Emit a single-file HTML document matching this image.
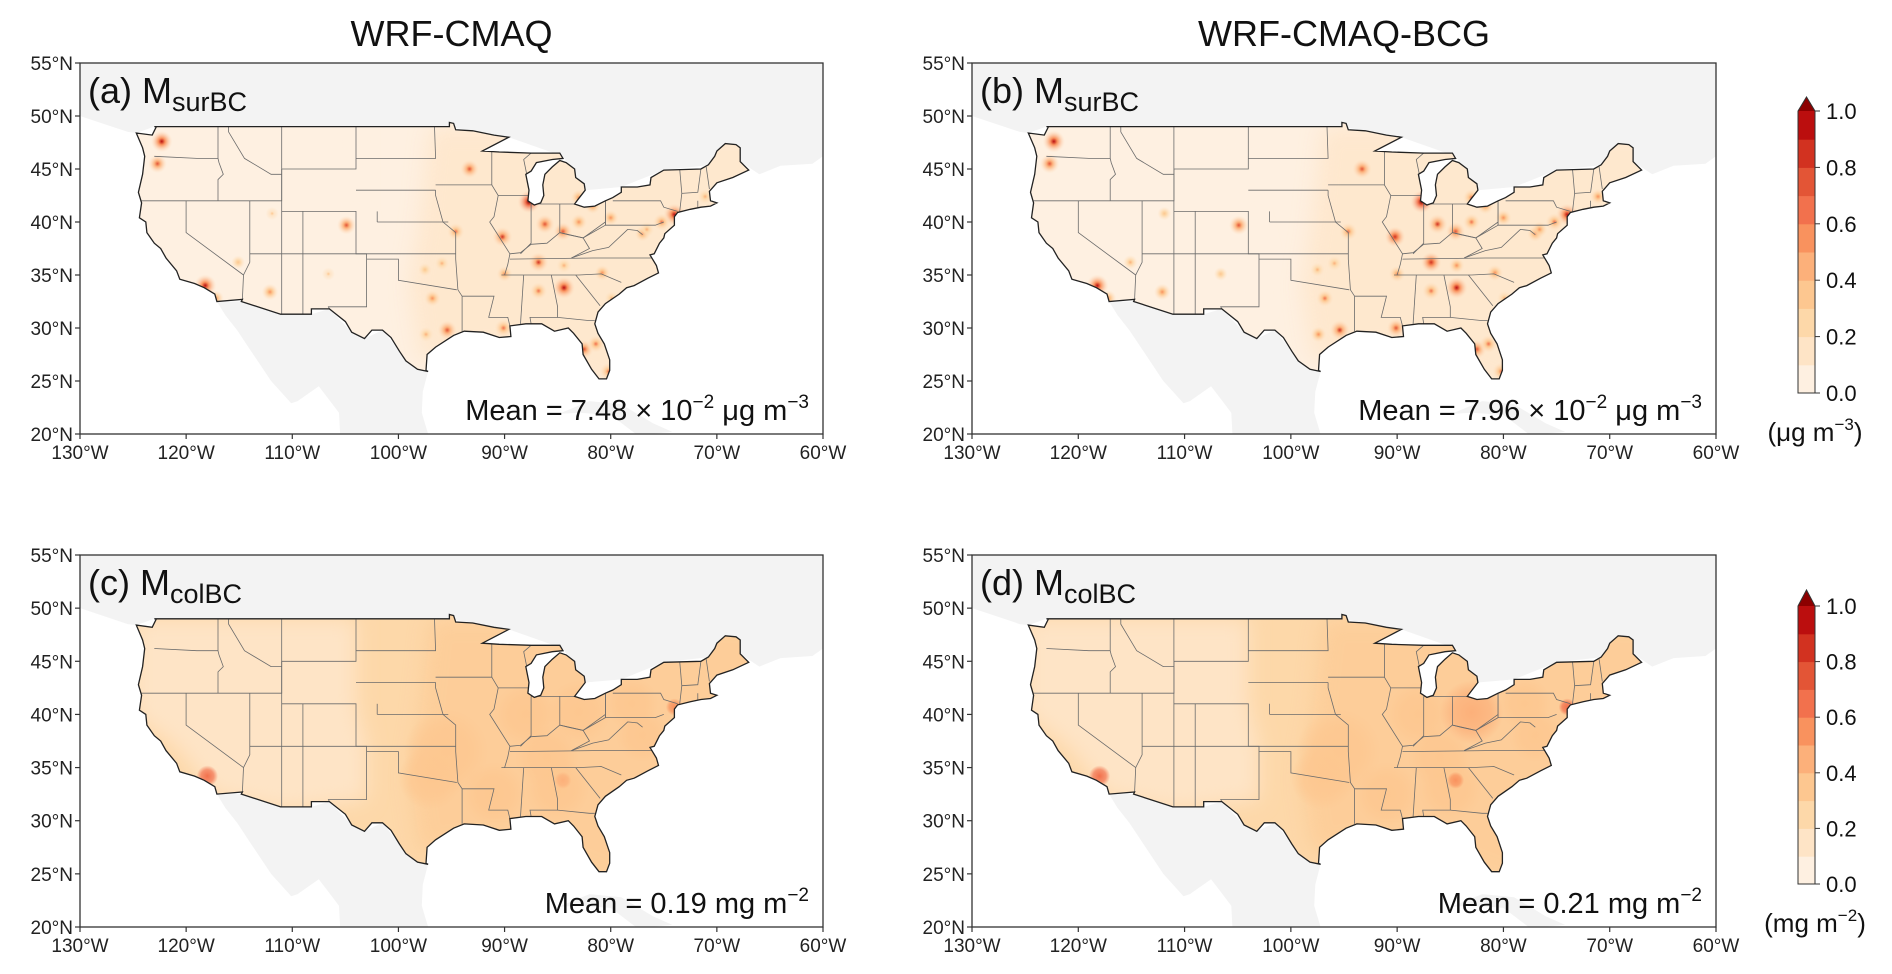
<!DOCTYPE html>
<html><head><meta charset="utf-8">
<style>
html,body{margin:0;padding:0;background:#fff;}
svg{display:block;font-family:"Liberation Sans",Arial,sans-serif;}
</style></head>
<body>
<svg id="fig" width="1892" height="974" viewBox="0 0 1892 974"></svg>
<script>
// ---- data ----
const latTicks=[55,50,45,40,35,30,25,20];
const lonTicks=[-130,-120,-110,-100,-90,-80,-70,-60];
const cbTicks=[0.0,0.2,0.4,0.6,0.8,1.0];
const cbLevels=[0,0.1,0.2,0.3,0.4,0.5,0.6,0.7,0.8,0.9,1.0];
const cbColors=['#fef0e1','#fee4c6','#fdd8a9','#fdc790','#fcb07a','#f9925e','#f2714d','#e35536','#d23220','#bb0e0e'];
const arrowColor='#8c0000';
const titles=['WRF-CMAQ','WRF-CMAQ-BCG'];
const panelLabels=['(a)','(b)','(c)','(d)'];
const panelSubs=['surBC','surBC','colBC','colBC'];
const baseValues=[0.06,0.06,0.25,0.26];
const westValues=[0.05,0.05,0.15,0.15];
const eastValues=[0.12,0.13,0.32,0.34];
// city hotspots [lon,lat] + values for surface panels (a),(b)
const cityLon=[-122.3,-122.7,-118.2,-117.2,-112.1,-104.9,-111.9,-93.3,-87.7,-90.2,-94.6,-86.2,-84.5,-83.0,-84.4,-86.8,-90.0,-95.4,-96.8,-97.5,-82.5,-81.4,-80.2,-74.0,-75.2,-71.1,-77.0,-80.0,-83.0,-81.7,-80.8,-86.8,-95.9,-97.4,-84.4,-90.1,-115.1,-106.6,-79.9,-76.6];
const cityLat=[47.6,45.5,34.0,32.8,33.4,39.7,40.8,45.0,41.9,38.6,39.1,39.8,39.1,40.0,33.8,36.2,35.1,29.8,32.8,35.5,28.0,28.5,25.9,40.7,40.0,42.4,38.9,40.4,42.3,41.5,35.2,33.5,36.1,29.4,35.9,30.0,36.2,35.1,32.8,39.3];
const cityValA=[0.9,0.7,0.95,0.5,0.55,0.7,0.3,0.7,1.0,0.8,0.6,0.75,0.7,0.55,0.95,0.8,0.5,0.75,0.55,0.35,0.7,0.6,0.6,0.95,0.6,0.45,0.5,0.5,0.55,0.5,0.5,0.6,0.4,0.45,0.45,0.65,0.35,0.3,0.4,0.45];
const cityValB=[0.95,0.75,0.95,0.55,0.55,0.75,0.35,0.75,1.0,0.85,0.65,0.8,0.75,0.6,0.95,0.85,0.55,0.8,0.6,0.4,0.75,0.65,0.65,0.95,0.65,0.5,0.55,0.55,0.6,0.55,0.55,0.65,0.45,0.5,0.5,0.7,0.4,0.35,0.45,0.5];
// regional blobs for column panels (c),(d)
const blobLon=[-95.5,-88,-83,-78,-85,-97,-118,-91,-77,-86,-74,-84.5];
const blobLat=[36.5,40,40.2,41,33,34,34.2,32.5,38,36,40.7,33.8];
const blobRad=[4,3,3,2.5,3,3,1.0,3,2.5,3,0.8,0.8];
const blobValC=[0.32,0.33,0.34,0.33,0.32,0.31,0.6,0.31,0.31,0.32,0.5,0.45];
const blobValD=[0.36,0.38,0.43,0.38,0.35,0.33,0.65,0.33,0.32,0.35,0.6,0.5];
const meanTexts=[['Mean = 7.48 × 10','−2',' μg m','−3'],['Mean = 7.96 × 10','−2',' μg m','−3'],['Mean = 0.19 mg m','−2','',''],['Mean = 0.21 mg m','−2','','']];
const units=[['(μg m','−3',')'],['(mg m','−2',')']];

const usOutline=[[-123,49],[-95.2,49],[-95.2,49.4],[-94.8,49.3],[-94.6,48.7],[-93,48.6],[-91,48.2],[-89.6,48],[-92.1,46.7],[-90.5,46.6],[-87.5,46.5],[-84.8,46.5],[-84.5,46],[-85.5,45.9],[-87,45.6],[-87.5,44.8],[-88,44.5],[-87.7,43],[-87.8,42],[-87.2,41.6],[-86.6,41.8],[-86.3,42.5],[-86.4,43.5],[-86.2,44.5],[-85.5,45.2],[-84.8,45.8],[-84.2,45.6],[-83.4,45],[-83.3,44.2],[-82.5,43.6],[-82.4,43],[-83.1,42.1],[-83.4,41.7],[-82.5,41.4],[-81.5,41.5],[-80.5,42],[-79.8,42.3],[-79,42.8],[-79,43.3],[-77.5,43.3],[-76.3,43.5],[-76.2,44.2],[-75,44.9],[-71.5,45],[-70.8,45.4],[-70.2,46.2],[-70,46.7],[-69.2,47.4],[-68.2,47.3],[-67.8,47],[-67.8,45.7],[-67,44.9],[-68.5,44.2],[-70,43.7],[-70.7,42.9],[-70.6,42],[-70,41.8],[-70.6,41.5],[-71.5,41.4],[-72.5,41.2],[-73.7,40.9],[-74,40.5],[-74,39.7],[-74.9,38.9],[-75,38.5],[-75.4,38],[-75.9,37],[-76.3,36.9],[-75.7,35.9],[-75.5,35.2],[-76.5,34.7],[-77.8,34],[-78.5,33.8],[-79.2,33.2],[-80.5,32.3],[-81.2,31.5],[-81.5,30.4],[-81.2,29.5],[-80.6,28.5],[-80.1,27],[-80.1,26],[-80.4,25.2],[-81.1,25.2],[-81.8,26.1],[-82.6,27.5],[-82.7,28.5],[-83.5,29.5],[-84,30],[-85.3,29.7],[-86.5,30.4],[-88,30.4],[-89.5,30.2],[-89.4,29.2],[-90.5,29.1],[-92,29.6],[-93.8,29.7],[-94.8,29.3],[-96.5,28.2],[-97.3,27.5],[-97.4,26],[-97.2,25.9],[-98.2,26.1],[-99.3,26.9],[-99.9,27.8],[-100.7,29.1],[-101.5,29.8],[-102.5,29.8],[-103.2,29],[-104.4,29.6],[-105,30.6],[-106.5,31.8],[-108.2,31.8],[-108.2,31.3],[-111.1,31.3],[-114.8,32.5],[-114.7,32.7],[-117.1,32.5],[-117.3,33.2],[-118.3,33.8],[-119.2,34.2],[-120.6,34.6],[-120.9,35.4],[-121.9,36.6],[-122.4,37.5],[-123,38],[-123.7,39],[-123.8,40],[-124.4,40.4],[-124.2,41.8],[-124.5,42.8],[-124.1,44.5],[-123.9,46.2],[-124.1,47],[-124.7,48.4],[-123.2,48.2],[-122.8,49]];
const canada=[[-130,50],[-125.5,48.5],[-124.7,48.4],[-123,49],[-95.2,49],[-89.6,48],[-84.5,46.2],[-82.4,43],[-79,43.3],[-75,44.9],[-67.8,45.7],[-66,44.5],[-64,45.3],[-61,45.5],[-60,46.2],[-60,55],[-130,55]];
const mexico=[[-117.1,32.5],[-114.8,32.5],[-111.1,31.3],[-108.2,31.3],[-106.5,31.8],[-104.4,29.6],[-103.2,29],[-101.5,29.8],[-99.9,27.8],[-97.2,25.9],[-97.7,24],[-97.8,22],[-97.2,20],[-105.5,20],[-105.6,22],[-107.5,24.5],[-109.5,23.1],[-110.1,22.9],[-112,25],[-114,28],[-115.2,29.8],[-116.3,31.2]];
const cuba=[[-84.9,21.9],[-82,23.1],[-79,22.8],[-76,21],[-74.2,20.2],[-77.5,19.9],[-80,21.8],[-83,22]];
const states=[
[[-117,49],[-117,46],[-116.9,45.6],[-116.5,44.5],[-117,44],[-117,42]],
[[-124.2,42],[-111,42],[-111,49]],
[[-123,46.2],[-119,46],[-117,46]],
[[-120,42],[-120,39],[-114.6,35]],
[[-114,42],[-114,36.2],[-114.6,35],[-114.7,32.7]],
[[-111,45],[-111,37],[-111,31.3]],
[[-116,49],[-116,48.5],[-114.5,46],[-112,44.5],[-111,44.5]],
[[-111,45],[-104,45],[-104,49]],
[[-111,41],[-104,41],[-104,37],[-103,37],[-103,32],[-106.6,32],[-106.5,31.8]],
[[-114,37],[-102,37],[-94.6,37]],
[[-109,41],[-109,31.3]],
[[-104,43],[-96.5,43]],[[-104,46],[-96.5,46],[-96.6,49]],
[[-102,40],[-95.3,40]],[[-102,41],[-102,40]],[[-103,36.5],[-100,36.5],[-100,34.5],[-94.5,33.6]],
[[-96.5,43],[-96.5,42.5],[-95.8,40],[-94.6,39],[-94.6,36.5],[-94.4,33.6],[-94,33],[-94,29.7]],
[[-94,33],[-91,33],[-91.5,31],[-89.7,31],[-89.5,30.2]],
[[-96.5,43.5],[-91.2,43.5],[-91.2,46.7]],[[-91.2,43.5],[-90.6,42.5],[-91,40.5],[-91.4,40],[-89.5,37],[-89.7,36],[-90,35]],
[[-87.5,46.5],[-88.2,45.9],[-87.5,42.5],[-90.6,42.5]],
[[-87.5,41.7],[-87.5,38],[-88,37.5],[-88.5,37]],[[-84.8,41.7],[-84.8,39],[-84,38.8],[-82.6,38.5],[-80.5,40],[-80.5,42]],
[[-87.5,41.7],[-84.8,41.7],[-83.4,41.7]],
[[-89.5,36.5],[-81.7,36.6],[-75.9,36.6]],[[-90.3,35],[-85.6,35],[-83,35],[-80.9,35.1],[-79,34.3]],
[[-88.2,35],[-88.5,30.4]],[[-85.6,35],[-85,32],[-85,31],[-87.6,31],[-87.5,30.4]],[[-85,31],[-82,30.7],[-81.5,30.7]],
[[-83.3,35],[-81,32.1]],
[[-80.5,42],[-80.5,39.7],[-75.8,39.7],[-75,40]],[[-79.8,42],[-75.3,42],[-75,41.4],[-73.7,41]],
[[-73.5,45],[-73.3,42.7],[-73.5,41]],[[-71.5,45],[-71.8,42.8],[-73.3,42.7]],[[-71.8,42],[-71.8,41.4]],[[-71,45.2],[-70.7,43.1]],
[[-83.7,36.6],[-81.7,37.3],[-80.2,37.6],[-78.4,39.3],[-77.5,39.2],[-77,38.8]],[[-80.5,40],[-80.5,39.7],[-82.6,38.5]],
[[-89.5,37],[-88.5,37.1],[-87.5,37.9],[-86,38],[-84.8,39],[-82.6,38.5],[-82,37.5],[-83.7,36.6]]
];
const westRegion=[[-125,49],[-104,49],[-104,41],[-103,37],[-103,32],[-106.5,31.5],[-111,31],[-117.5,32.5],[-119,34.5],[-121,37],[-125,40]];
const eastRegion=[[-97,49],[-60,49],[-60,25],[-80,24],[-90,28],[-98,27],[-99,34],[-98,40]];

// ---- layout ----
const NS='http://www.w3.org/2000/svg';
const svg=document.getElementById('fig');
function el(tag,attrs,parent){const e=document.createElementNS(NS,tag);for(const k in attrs)e.setAttribute(k,attrs[k]);(parent||svg).appendChild(e);return e;}
const panels=[{x0:80,x1:823,y0:63,y1:434},{x0:972,x1:1716,y0:63,y1:434},{x0:80,x1:823,y0:555,y1:927},{x0:972,x1:1716,y0:555,y1:927}];
function colorFor(v){if(v>=1)return arrowColor;for(let i=cbLevels.length-2;i>=0;i--){if(v>=cbLevels[i])return cbColors[i];}return cbColors[0];}

const defs=el('defs',{});
const blur=el('filter',{id:'soft',x:'-20%',y:'-20%',width:'140%',height:'140%'},defs);
el('feGaussianBlur',{stdDeviation:10},blur);
panels.forEach((p,pi)=>{
  const X=lon=>p.x0+(lon+130)/70*(p.x1-p.x0);
  const Y=lat=>p.y1-(lat-20)/35*(p.y1-p.y0);
  const kx=(p.x1-p.x0)/70;
  const pts=a=>a.map(q=>X(q[0]).toFixed(1)+','+Y(q[1]).toFixed(1)).join(' ');
  const g=el('g',{});
  
  
  const cp=el('clipPath',{id:'us'+pi},defs);el('polygon',{points:pts(usOutline)},cp);
  const cpa=el('clipPath',{id:'ax'+pi},defs);el('rect',{x:p.x0,y:p.y0,width:p.x1-p.x0,height:p.y1-p.y0},cpa);
  const land=el('g',{'clip-path':'url(#ax'+pi+')'},g);
  [canada,mexico,cuba].forEach((poly,i)=>{const e=el('polygon',{points:pts(poly),fill:'#f3f3f3'},land);
    
    });
  const us=el('g',{'clip-path':'url(#us'+pi+')'},g);
  const base=el('polygon',{points:pts(usOutline),fill:colorFor(baseValues[pi])},us);
  
  
  const w=el('polygon',{points:pts(westRegion),fill:colorFor(westValues[pi]),filter:'url(#soft)'},us);
  
  
  const e2=el('polygon',{points:pts(eastRegion),fill:colorFor(eastValues[pi]),filter:'url(#soft)',opacity:pi<2?0.7:0.6},us);
  
  
  if(pi<2){
    const vals=pi===0?cityValA:cityValB;
    cityLon.forEach((lon,i)=>{
      const v=vals[i];
      const gid='cg'+pi+'_'+i;
      const rg=el('radialGradient',{id:gid},defs);
      el('stop',{offset:'0','stop-color':colorFor(v)},rg);
      el('stop',{offset:'0.3','stop-color':colorFor(v*0.6)},rg);
      el('stop',{offset:'1','stop-color':colorFor(0.15),'stop-opacity':'0'},rg);
      const c=el('circle',{cx:X(lon),cy:Y(cityLat[i]),r:(0.4+v*0.7)*kx,fill:'url(#'+gid+')'},us);
      
      
    });
  } else {
    const vals=pi===2?blobValC:blobValD;
    blobLon.forEach((lon,i)=>{
      const gid='bg'+pi+'_'+i;
      const rg=el('radialGradient',{id:gid},defs);
      el('stop',{offset:'0','stop-color':colorFor(vals[i])},rg);
      el('stop',{offset:'0.6','stop-color':colorFor(vals[i]),'stop-opacity':'0.7'},rg);
      el('stop',{offset:'1','stop-color':colorFor(vals[i]),'stop-opacity':'0'},rg);
      const c=el('circle',{cx:X(lon),cy:Y(blobLat[i]),r:blobRad[i]*kx,fill:'url(#'+gid+')'},us);
      
      
    });
  }
  states.forEach(s=>{el('polyline',{points:pts(s),fill:'none',stroke:'#6b6b6b','stroke-width':0.8},us);});
  const ol=el('polygon',{points:pts(usOutline),fill:'none',stroke:'#222','stroke-width':1.3},g);
  
  
  const fr=el('rect',{x:p.x0,y:p.y0,width:p.x1-p.x0,height:p.y1-p.y0,fill:'none',stroke:'#333','stroke-width':1.3},g);
  
  
  latTicks.forEach(t=>{
    el('line',{x1:p.x0-5,x2:p.x0,y1:Y(t),y2:Y(t),stroke:'#333','stroke-width':1.2},g);
    const tx=el('text',{x:p.x0-7,y:Y(t)+7,'text-anchor':'end','font-size':19,fill:'#222'},g);
    tx.textContent=t+'°N';
    
    
  });
  lonTicks.forEach(t=>{
    el('line',{x1:X(t),x2:X(t),y1:p.y1,y2:p.y1+5,stroke:'#333','stroke-width':1.2},g);
    const tx=el('text',{x:X(t),y:p.y1+25,'text-anchor':'middle','font-size':19,fill:'#222'},g);
    tx.textContent=Math.abs(t)+'°W';
    
    
  });
  const lab=el('text',{x:p.x0+8,y:p.y0+40,'font-size':36,fill:'#111'},g);
  
  
  lab.appendChild(document.createTextNode(panelLabels[pi]+' M'));
  const sb=el('tspan',{'font-size':27,dy:8},lab);sb.textContent=panelSubs[pi];
  const m=meanTexts[pi];
  const mt=el('text',{x:p.x1-14,y:p.y1-14,'text-anchor':'end','font-size':29,fill:'#111'},g);
  
  
  mt.appendChild(document.createTextNode(m[0]));
  const s1=el('tspan',{'font-size':19,dy:-12},mt);s1.textContent=m[1];
  if(m[2]){const s2=el('tspan',{dy:12},mt);s2.textContent=m[2];const s3=el('tspan',{'font-size':19,dy:-12},mt);s3.textContent=m[3];}
});
titles.forEach((t,i)=>{
  const p=panels[i];
  const tt=el('text',{x:(p.x0+p.x1)/2,y:46,'text-anchor':'middle','font-size':36,fill:'#111'});
  tt.textContent=t;
  
  
});
// colorbars
[{top:111,bot:393,tip:97},{top:606,bot:884,tip:590}].forEach((c,ci)=>{
  const g=el('g',{});
  
  
  const x0=1798,x1=1815;
  const Yc=v=>c.bot-(v-0)/(1.0)*(c.bot-c.top);
  cbColors.forEach((col,i)=>{el('rect',{x:x0,y:Yc(cbLevels[i+1]),width:x1-x0,height:Yc(cbLevels[i])-Yc(cbLevels[i+1])+0.5,fill:col},g);});
  el('polygon',{points:`${x0},${c.top} ${x1},${c.top} ${(x0+x1)/2},${c.tip}`,fill:arrowColor},g);
  el('polygon',{points:`${x0},${c.bot} ${x0},${c.top} ${(x0+x1)/2},${c.tip} ${x1},${c.top} ${x1},${c.bot}`,fill:'none',stroke:'#333','stroke-width':1},g);
  cbTicks.forEach(t=>{
    el('line',{x1:x1,x2:x1+5,y1:Yc(t),y2:Yc(t),stroke:'#333'},g);
    const tx=el('text',{x:x1+11,y:Yc(t)+8,'font-size':22,fill:'#111'},g);
    tx.textContent=t.toFixed(1);
    
    
  });
  const u=units[ci];
  const ut=el('text',{x:1815,y:c.bot+48,'text-anchor':'middle','font-size':26,fill:'#111'},g);
  
  
  ut.appendChild(document.createTextNode(u[0]));
  const s=el('tspan',{'font-size':17,dy:-11},ut);s.textContent=u[1];
  const e=el('tspan',{dy:11},ut);e.textContent=u[2];
});
</script>
</body></html>
